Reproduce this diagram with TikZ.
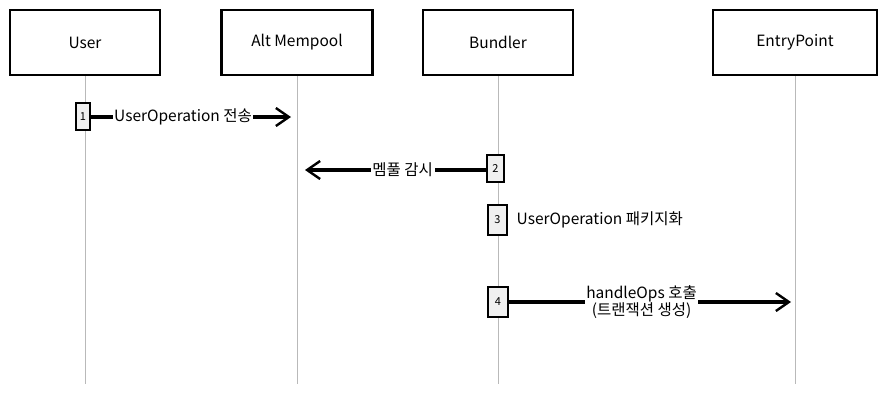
\documentclass[tikz,border=0pt]{standalone}
\usepackage{fontspec}
\setmainfont{Noto Sans CJK KR}
\usepackage{xcolor}
\usetikzlibrary{arrows.meta}

\tikzset{
  actor/.style={draw,line width=2.2pt,minimum height=65pt,fill=white,
                font=\fontsize{15.5}{17}\selectfont},
  lifeline/.style={draw=gray!55,line width=1pt},
  act/.style={draw,line width=2pt,fill=gray!12,font=\fontsize{11}{12}\selectfont,
              inner sep=0pt},
  msg/.style={line width=3.2pt,-{Straight Barb[length=13pt,width=18pt,line width=2.4pt]}},
  lbl/.style={fill=white,inner sep=1.5pt,align=center,font=\fontsize{15.5}{15}\selectfont},
}

\begin{document}
\begin{tikzpicture}[x=1pt,y=-1pt]
  \useasboundingbox (0,0) rectangle (886,394);

  % participants and lifelines
  \foreach \n/\x/\w/\t in {user/85/150/User,
                           pool/297/151/Alt Mempool,
                           bundler/498/150/Bundler,
                           entry/795/164/EntryPoint}{
     \coordinate (\n-end) at (\x,384);
     \node[actor,minimum width=\w pt] (\n) at (\x,42.5) {\t};
     \draw[lifeline] (\n.south) -- (\n-end);}

  % activations
  \node[act,minimum width=14pt,minimum height=27pt] (act1) at (83,116.5) {1};
  \node[act,minimum width=17pt,minimum height=27pt] (act2) at (495.5,168.5) {2};
  \node[act,minimum width=19pt,minimum height=30pt] (act3) at (497.5,220) {3};
  \node[act,minimum width=20pt,minimum height=30pt] (act4) at (498,302) {4};

  % message ends
  \coordinate (to1) at (291,117);
  \coordinate (to2) at (305,170);
  \coordinate (to4) at (791,302);

  \draw[msg] (act1.east |- to1) -- node[lbl,pos=0.46] {UserOperation 전송} (to1);
  \draw[msg] (act2.west |- to2) -- node[lbl,pos=0.46] {멤풀 감시} (to2);
  \node[lbl,anchor=west] (pack) at (515,220) {UserOperation 패키지화};
  \draw[msg] (act4.east |- to4) -- node[lbl,pos=0.47] {handleOps 호출\\(트랜잭션 생성)} (to4);
\end{tikzpicture}
\end{document}
